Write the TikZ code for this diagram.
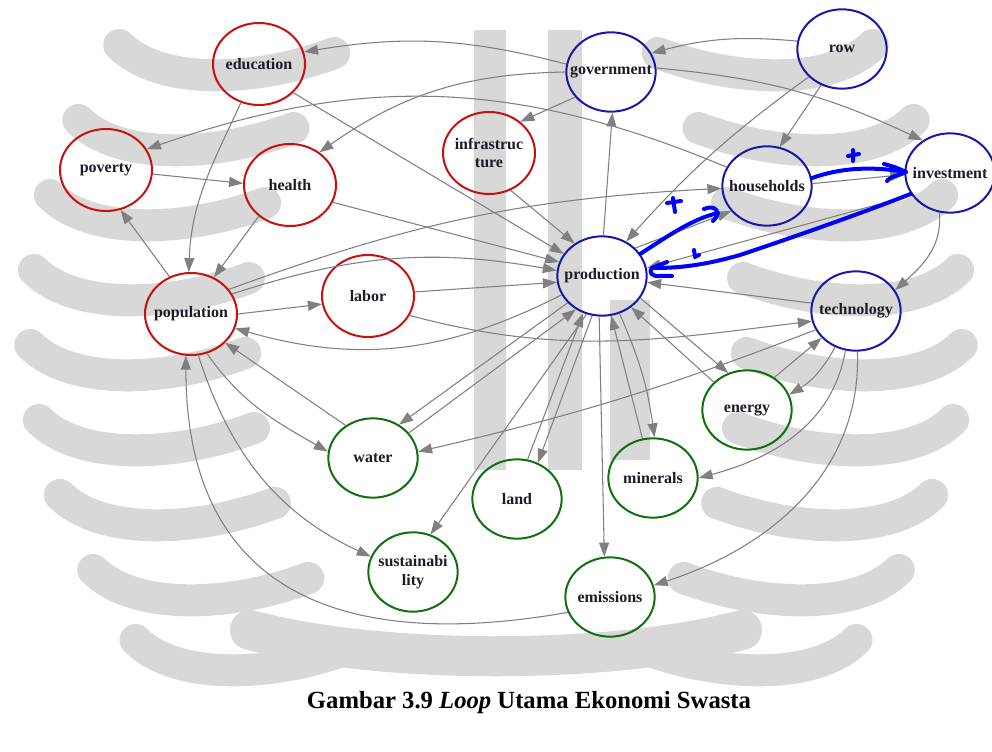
\documentclass[tikz,border=0pt]{standalone}
\usepackage{fontspec}
\setmainfont{Liberation Serif}
\usetikzlibrary{shapes.geometric,arrows.meta}
\definecolor{nred}{RGB}{200,16,16}
\definecolor{nblue}{RGB}{24,24,168}
\definecolor{ngreen}{RGB}{16,112,16}
\definecolor{egray}{RGB}{128,128,128}
\definecolor{pen}{RGB}{0,0,255}
\definecolor{ink}{RGB}{28,28,40}
\definecolor{wmark}{RGB}{216,216,216}
\begin{document}
\begin{tikzpicture}[x=0.75pt,y=0.75pt,
  lbl/.style={font=\bfseries\fontsize{12}{14}\selectfont, text=ink, align=center, inner sep=0pt},
  var/.style={ellipse, draw, line width=1.5pt, minimum width=67pt, minimum height=59.5pt, inner sep=0pt},
  soc/.style={var, draw=nred, minimum width=69pt, minimum height=61.5pt, label={[lbl]center:#1}},
  eco/.style={var, draw=nblue, label={[lbl]center:#1}},
  env/.style={var, draw=ngreen, label={[lbl]center:#1}},
  link/.style={draw=egray, line width=0.8pt, -{Triangle[length=10.5pt,width=7.5pt]}},
  penstroke/.style={draw=pen, line width=3pt, line cap=round, line join=round},
  feather/.style={draw=wmark, line width=24pt, line cap=round}]
\useasboundingbox (0,0) rectangle (992,-752);

% background emblem: feathers on both wings, central bars and base
\foreach \y in {45,120,195,270,345,420,495,570,640} {
  \pgfmathsetmacro{\xo}{30+0.0011*(\y-330)*(\y-330)}
  \pgfmathsetmacro{\xi}{\xo+215}
  \draw[feather] (\xi,-\y-8) .. controls (\xi-80,-\y-38) and (\xo+40,-\y-40) .. (\xo,-\y);
  \draw[feather] (992-\xi,-\y-8) .. controls (1072-\xi,-\y-38) and (952-\xo,-\y-40) .. (992-\xo,-\y);
}
\fill[wmark] (474,-30) rectangle (506,-470);
\fill[wmark] (548,-30) rectangle (582,-470);
\fill[wmark] (610,-300) rectangle (650,-460);
\draw[wmark, line width=30pt, line cap=round] (250,-630) .. controls (380,-665) and (610,-665) .. (742,-630);

% social sector
\node[soc={education}]           (education)  at (259,-64)  {};
\node[soc={poverty}]             (poverty)    at (106,-170) {};
\node[soc={health}]              (health)     at (290,-185) {};
\node[soc={infrastruc\\ture}]    (infra)      at (489,-153) {};
\node[soc={population}]          (population) at (191,-314) {};
\node[soc={labor}]               (labor)      at (368,-296) {};
% economic sector
\node[eco={government}]          (government) at (611,-72)  {};
\node[eco={row}]                 (row)        at (842,-49)  {};
\node[eco={households}]          (households) at (767,-186) {};
\node[eco={investment}]          (investment) at (950,-173) {};
\node[eco={production}]          (production) at (602,-276) {};
\node[eco={technology}]          (technology) at (856,-311) {};
% environment sector
\node[env={energy}]              (energy)    at (747,-410) {};
\node[env={water}]               (water)     at (373,-458) {};
\node[env={land}]                (land)      at (517,-499) {};
\node[env={minerals}]            (minerals)  at (653,-478) {};
\node[env={sustainabi\\lity}]    (sustain)   at (413,-572) {};
\node[env={emissions}]           (emissions) at (610,-597) {};

% links between variables
\draw[link] (row.170) to[bend right=10] (government.25);
\draw[link] (row.240) -- (households.72);
\draw[link] (row.220) to[bend right=6] (production.55);
\draw[link] (government.5) to[bend left=10] (investment.130);
\draw[link] (government.170) to[bend right=12] (education.15);
\draw[link] (government.180) to[bend right=17] (health.48);
\draw[link] (government.215) -- (infra.45);
\draw[link] (households.155) to[bend right=21] (poverty.27);
\draw[link] (production.88) -- (government.272);
\draw[link] (population.33) to[out=20,in=183] (households.183);
\draw[link] (population.26) to[out=18,in=170] (production.173);
\draw[link] (education.-40) -- (production.150);
\draw[link] (infra.-60) -- (production.130);
\draw[link] (health.-22) -- (production.162);
\draw[link] (labor.5) -- (production.188);
\draw[link] (poverty.-5) -- (health.178);
\draw[link] (population.120) -- (poverty.-70);
\draw[link] (education.245) to[out=245,in=88] (population.93);
\draw[link] (health.225) -- (population.58);
\draw[link] (population.0) -- (labor.190);
\draw[link] (labor.-25) to[out=-15,in=187] (technology.193);
\draw[link] (production.205) to[out=207,in=-16] (population.-18);
\draw[link] (production.218) -- (water.52);
\draw[link] (water.35) -- (production.232);
\draw[link] (population.-68) to[out=-55,in=150] (water.172);
\draw[link] (population.-80) to[out=-72,in=155] (sustain.160);
\draw[link] (water.130) -- (population.-40);
\draw[link] (emissions.200) to[out=190,in=270,looseness=1.3] (population.-97);
\draw[link] (production.248) -- (sustain.65);
\draw[link] (land.75) -- (production.243);
\draw[link] (production.256) -- (land.60);
\draw[link] (production.266) -- (emissions.98);
\draw[link] (minerals.105) -- (production.283);
\draw[link] (production.295) to[bend left=8] (minerals.88);
\draw[link] (energy.140) -- (production.313);
\draw[link] (production.330) -- (energy.117);
\draw[link] (technology.170) -- (production.-8);
\draw[link] (technology.205) to[bend left=4] (water.8);
\draw[link] (technology.240) to[bend left=15] (energy.20);
\draw[link] (energy.50) -- (technology.218);
\draw[link] (technology.255) to[out=-100,in=15] (minerals.0);
\draw[link] (technology.272) to[out=-88,in=18] (emissions.15);
\draw[link] (investment.255) to[out=-85,in=42] (technology.28);
\draw[link] (production.40) -- (households.215);
\draw[link] (households.3) -- (investment.182);
\draw[link] (investment.210) -- (production.10);

% hand-drawn loop marks
\draw[penstroke] (production.30) .. controls (668,-236) and (692,-219) .. (718,-213);
\draw[penstroke] (704,-209) .. controls (716,-204) and (722,-213) .. (713,-221);
\draw[penstroke] (667,-203) -- (681,-201) (673,-198) -- (675,-212);
\draw[penstroke] (households.10) .. controls (840,-168) and (870,-166) .. (906,-172);
\draw[penstroke] (884,-164) .. controls (895,-167) .. (906,-172) .. controls (898,-176) and (890,-176) .. (887,-181);
\draw[penstroke] (848,-156) -- (859,-154) (853,-150) -- (853,-161);
\draw[penstroke] (investment.208) .. controls (870,-210) and (800,-235) .. (740,-255)
  .. controls (705,-265) and (680,-268) .. (655,-268);
\draw[penstroke] (667,-262) -- (652,-268) .. controls (648,-272) and (652,-277) .. (660,-276) -- (672,-276);
\draw[penstroke] (694,-250) -- (695,-257) -- (699,-255);

% caption
\node[font=\bfseries\fontsize{18.5}{22}\selectfont, text=black] (caption) at (529,-703)
  {Gambar 3.9 \textit{Loop} Utama Ekonomi Swasta};
\end{tikzpicture}
\end{document}
